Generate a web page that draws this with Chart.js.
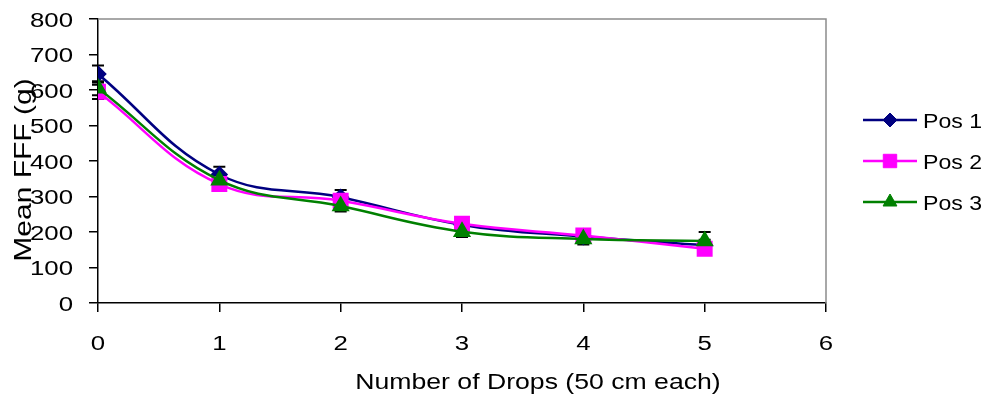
<!DOCTYPE html>
<html>
<head>
<meta charset="utf-8">
<script src="https://cdn.jsdelivr.net/npm/chart.js@4"></script>
<style>
  body { margin: 0; background: #fff; }
  #wrap { width: 990px; height: 400px; }
</style>
</head>
<body>
<div id="wrap"><canvas id="dropChart" width="990" height="400"></canvas></div>
<script>
// Data
const drops = [0, 1, 2, 3, 4, 5];
const pos1 = [645, 362, 298, 220, 187, 163];
const pos2 = [595, 335, 288, 223, 190, 153];
const pos3 = [605, 346, 273, 201, 180, 175];
const pos1Err = [24, 22, 20, 15, 15, 15];
const pos2Err = [20, 15, 15, 17, 18, 15];
const pos3Err = [20, 15, 15, 15, 15, 25];
const seriesNames = ['Pos 1', 'Pos 2', 'Pos 3'];
const xTitle = 'Number of Drops (50 cm each)';
const yTitle = 'Mean FFF (g)';

const FONT = 'Liberation Sans, Arial, sans-serif';

// the reference text is wider than Arial, so stretch it along its run
function stretchedText(ctx, text, x, y, size, sx, align, rot) {
    ctx.save();
    ctx.translate(x, y);
    if (rot) ctx.rotate(rot);
    ctx.scale(sx, 1);
    ctx.font = size + 'px ' + FONT;
    ctx.fillStyle = '#000';
    ctx.textBaseline = 'alphabetic';
    ctx.textAlign = align;
    ctx.fillText(text, 0, 0);
    ctx.restore();
}

// Gray frame round the plot area (top and right edges)
const frame = {
    id: 'frame',
    beforeDatasetsDraw(chart) {
        const { ctx, chartArea: a } = chart;
        ctx.save();
        ctx.strokeStyle = '#8c8c8c';
        ctx.lineWidth = 1.5;
        ctx.beginPath();
        ctx.moveTo(a.left, a.top);
        ctx.lineTo(a.right, a.top);
        ctx.lineTo(a.right, a.bottom);
        ctx.stroke();
        ctx.restore();
    }
};

// Error bars, drawn under the markers
const errorBars = {
    id: 'errorBars',
    beforeDatasetsDraw(chart) {
        const { ctx, scales } = chart;
        ctx.save();
        ctx.strokeStyle = '#000';
        ctx.lineWidth = 2;
        chart.data.datasets.forEach(ds => {
            ds.data.forEach((p, i) => {
                const x = scales.x.getPixelForValue(p.x);
                const yTop = scales.y.getPixelForValue(p.y + ds.errors[i]);
                const yBot = scales.y.getPixelForValue(p.y - ds.errors[i]);
                ctx.beginPath();
                ctx.moveTo(x, yTop); ctx.lineTo(x, yBot);
                ctx.moveTo(x - 6, yTop); ctx.lineTo(x + 6, yTop);
                ctx.moveTo(x - 6, yBot); ctx.lineTo(x + 6, yBot);
                ctx.stroke();
            });
        });
        ctx.restore();
    }
};

// Tick labels and axis titles
const axisText = {
    id: 'axisText',
    afterDraw(chart) {
        const { ctx, scales } = chart;
        scales.y.ticks.forEach(t => {
            const y = scales.y.getPixelForValue(t.value);
            stretchedText(ctx, String(t.value), 73, y + 7.5, 20, 1.29, 'right');
        });
        scales.x.ticks.forEach(t => {
            const x = scales.x.getPixelForValue(t.value);
            stretchedText(ctx, String(t.value), x, 350, 20, 1.29, 'center');
        });
        stretchedText(ctx, xTitle, 538, 389, 22, 1.21, 'center');
        stretchedText(ctx, yTitle, 31, 170, 24, 1.25, 'center', -Math.PI / 2);
    }
};

// Legend at the right, Excel style: line with marker in the middle
const sideLegend = {
    id: 'sideLegend',
    afterDraw(chart) {
        const { ctx } = chart;
        seriesNames.forEach((name, i) => {
            const ds = chart.data.datasets.find(d => d.label === name);
            const y = 120 + i * 41;
            ctx.save();
            ctx.strokeStyle = ds.borderColor;
            ctx.lineWidth = 2.5;
            ctx.beginPath();
            ctx.moveTo(863, y); ctx.lineTo(917, y);
            ctx.stroke();
            ctx.fillStyle = ds.backgroundColor;
            ctx.lineWidth = 1;
            Chart.helpers.drawPoint(ctx, {
                pointStyle: ds.pointStyle,
                radius: ds.pointRadius,
                rotation: 0,
                borderWidth: 1
            }, 890, y);
            ctx.restore();
            stretchedText(ctx, name, 923, y + 7.5, 21, 1.1, 'left');
        });
    }
};

function series(label, values, errs, color, style, radius, order) {
    return {
        label: label,
        data: drops.map((d, i) => ({ x: d, y: values[i] })),
        errors: errs,
        borderColor: color,
        backgroundColor: color,
        pointBackgroundColor: color,
        pointBorderColor: color,
        pointStyle: style,
        pointRadius: radius,
        borderWidth: 2.5,
        tension: 0.4,
        order: order
    };
}

const ctx = document.getElementById('dropChart').getContext('2d');
const chart = new Chart(ctx, {
    type: 'line',
    data: {
        datasets: [
            series(seriesNames[0], pos1, pos1Err, '#000080', 'rectRot', 7, 2),
            series(seriesNames[1], pos2, pos2Err, '#ff00ff', 'rect', 9.5, 1),
            series(seriesNames[2], pos3, pos3Err, '#008000', 'triangle', 8, 0)
        ]
    },
    options: {
        responsive: false,
        animation: false,
        layout: { padding: { top: 19, right: 164, left: 0, bottom: 0 } },
        plugins: {
            legend: { display: false },
            tooltip: { enabled: false }
        },
        scales: {
            x: {
                type: 'linear',
                min: 0,
                max: 6,
                ticks: { stepSize: 1, display: false },
                grid: { display: true, drawOnChartArea: false, color: '#000', tickLength: 9, lineWidth: 1.5 },
                border: { color: '#000', width: 1.5 },
                afterFit(scale) { scale.height = 97; }
            },
            y: {
                min: 0,
                max: 800,
                ticks: { stepSize: 100, display: false },
                grid: { display: true, drawOnChartArea: false, color: '#000', tickLength: 9, lineWidth: 1.5 },
                border: { color: '#000', width: 1.5 },
                afterFit(scale) { scale.width = 98; }
            }
        }
    },
    plugins: [frame, errorBars, axisText, sideLegend]
});
</script>
</body>
</html>
